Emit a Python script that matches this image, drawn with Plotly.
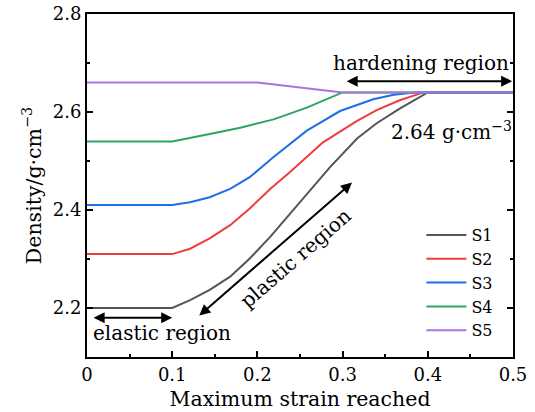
import plotly.graph_objects as go

# ---- data ----
s1_strain = [0, 0.1, 0.121, 0.144, 0.168, 0.191, 0.215, 0.238, 0.258, 0.285, 0.317, 0.34, 0.367, 0.4, 0.5]
s1_density = [2.2, 2.2, 2.216, 2.237, 2.264, 2.301, 2.345, 2.392, 2.433, 2.487, 2.546, 2.577, 2.607, 2.64, 2.64]

s2_strain = [0, 0.1, 0.121, 0.144, 0.168, 0.191, 0.215, 0.238, 0.277, 0.317, 0.34, 0.367, 0.395, 0.5]
s2_density = [2.31, 2.31, 2.321, 2.342, 2.369, 2.403, 2.443, 2.477, 2.538, 2.582, 2.604, 2.624, 2.64, 2.64]

s3_strain = [0, 0.1, 0.121, 0.144, 0.168, 0.191, 0.219, 0.258, 0.297, 0.336, 0.36, 0.385, 0.5]
s3_density = [2.41, 2.41, 2.416, 2.426, 2.443, 2.467, 2.508, 2.562, 2.602, 2.626, 2.635, 2.64, 2.64]

s4_strain = [0, 0.1, 0.144, 0.18, 0.219, 0.258, 0.3, 0.5]
s4_density = [2.54, 2.54, 2.555, 2.568, 2.585, 2.609, 2.64, 2.64]

s5_strain = [0, 0.2, 0.3, 0.5]
s5_density = [2.66, 2.66, 2.64, 2.64]

series_names = ["S1", "S2", "S3", "S4", "S5"]
series_colors = ["#555555", "#ee3d3d", "#1e6fe6", "#2aa564", "#a874e0"]
series_x = [s1_strain, s2_strain, s3_strain, s4_strain, s5_strain]
series_y = [s1_density, s2_density, s3_density, s4_density, s5_density]

x_ticks = [0, 0.1, 0.2, 0.3, 0.4, 0.5]
y_ticks = [2.2, 2.4, 2.6, 2.8]

FONT = "DejaVu Serif, serif"

fig = go.Figure()
for name, col, xs, ys in zip(series_names, series_colors, series_x, series_y):
    fig.add_trace(go.Scatter(x=xs, y=ys, mode="lines", name=name,
                             line=dict(color=col, width=2)))

def arrow(x0, y0, x1, y1):
    fig.add_annotation(x=x1, y=y1, ax=x0, ay=y0, xref="x", yref="y", axref="x", ayref="y",
                       text="", showarrow=True, arrowhead=2, startarrowhead=2, arrowside="end+start",
                       arrowsize=1.1, startarrowsize=1.1, arrowwidth=2, arrowcolor="black")

arrow(0.303, 2.663, 0.499, 2.663)
arrow(0.006, 2.18, 0.1, 2.18)
arrow(0.130, 2.182, 0.311, 2.456)

tf = dict(family=FONT, size=20, color="black")
fig.add_annotation(x=0.392, y=2.70, text="hardening region", showarrow=False, font=tf)
fig.add_annotation(x=0.428, y=2.562, text="2.64 g·cm<sup>−3</sup>", showarrow=False, font=tf)
fig.add_annotation(x=0.088, y=2.149, text="elastic region", showarrow=False, font=tf)
fig.add_annotation(x=0.245, y=2.302, text="plastic region", showarrow=False, font=tf, textangle=-41)

title_font = dict(family=FONT, size=20.5, color="black")

fig.update_layout(
    width=535, height=412,
    margin=dict(l=87, r=22, t=14, b=55),
    paper_bgcolor="white", plot_bgcolor="white",
    font=dict(family=FONT, size=18, color="black"),
    showlegend=True,
    legend=dict(x=0.785, y=0.405, xanchor="left", yanchor="top", bgcolor="rgba(0,0,0,0)",
                font=dict(family=FONT, size=16, color="black"), itemwidth=40, tracegroupgap=0),
    xaxis=dict(range=[0, 0.5], tickvals=x_ticks, ticktext=[str(v) if v else "0" for v in x_ticks],
               ticks="inside", ticklen=6, tickwidth=2, tickcolor="black",
               minor=dict(dtick=0.05, ticks="inside", ticklen=3, tickwidth=1.5, tickcolor="black"),
               showline=True, linewidth=2, linecolor="black", mirror=True, showgrid=False, zeroline=False,
               automargin=False,
               title=dict(text="Maximum strain reached", standoff=8, font=title_font),
               tickfont=dict(family=FONT, size=18, color="black")),
    yaxis=dict(range=[2.1, 2.8], tickvals=y_ticks, ticks="inside", ticklen=6, tickwidth=2, tickcolor="black",
               minor=dict(dtick=0.1, tick0=2.1, ticks="inside", ticklen=3, tickwidth=1.5, tickcolor="black"),
               showline=True, linewidth=2, linecolor="black", mirror="ticks", showgrid=False, zeroline=False,
               automargin=False,
               title=dict(text="Density/g·cm<sup>−3</sup>", standoff=6, font=title_font),
               tickfont=dict(family=FONT, size=18, color="black")),
)

fig.write_html("out.html")
